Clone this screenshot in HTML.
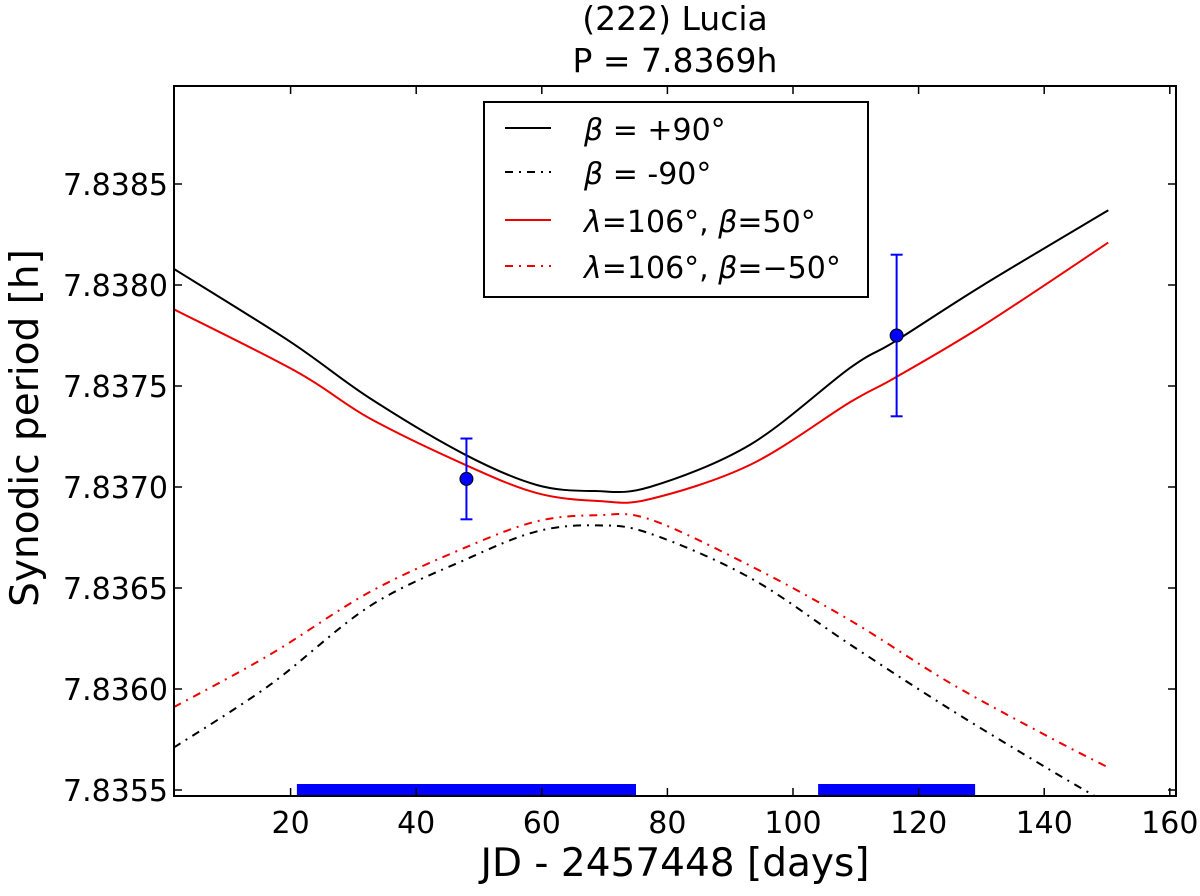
<!DOCTYPE html>
<html><head><meta charset="utf-8"><style>
body{margin:0;background:#fff}
svg text{font-family:"DejaVu Sans","Liberation Sans",sans-serif;fill:#000}
</style></head><body>
<svg width="1200" height="891">
<g id="g"></g>
</svg>
<script>
const xSolidBlack=[1.4,19.9,32.6,47.8,59.2,68.5,77.2,93.2,109.1,116.2,130.3,150.2];
const blackSolid=[7.83808,7.83772,7.83744,7.83716,7.83701,7.83698,7.83700,7.83721,7.83759,7.83772,7.83800,7.83837];
const xSolidRed=[1.4,21.0,32.6,47.8,59.2,69.3,77.2,93.2,109.1,116.2,130.3,150.2];
const redSolid=[7.83788,7.83757,7.83734,7.83711,7.83697,7.83693,7.83694,7.83711,7.83742,7.83754,7.83780,7.83821];
const xDash=[1.4,16.7,32.6,47.8,59.2,68.8,77.2,93.2,109.1,125.0,140.9,150.3];
const blackDash=[7.83571,7.83602,7.83641,7.83664,7.83678,7.83681,7.83677,7.83655,7.83622,7.83590,7.83560,7.83543];
const redDash=[7.83591,7.83617,7.83648,7.83670,7.83683,7.83686,7.83684,7.83661,7.83634,7.83603,7.83576,7.83561];
const obsX=[48,116.5];
const obsY=[7.83704,7.83775];
const obsErr=[0.0002,0.0004];
const windows=[[21,75],[104,129]];
const xTicks=[20,40,60,80,100,120,140,160];
const yTicks=[7.8355,7.8360,7.8365,7.8370,7.8375,7.8380,7.8385];
const L=174,R=1176,T=86,B=796;
const X=v=>165+(v)*6.28;
const Y=v=>184+(7.8385-v)/0.0005*101;
const NS="http://www.w3.org/2000/svg";
const g=document.getElementById('g');
function mk(t,a,p){const e=document.createElementNS(NS,t);for(const k in a)e.setAttribute(k,a[k]);(p||g).appendChild(e);return e;}
const defs=mk('defs',{});const cp=mk('clipPath',{id:'c'},defs);mk('rect',{x:L,y:T,width:R-L,height:B-T},cp);
const plot=mk('g',{'clip-path':'url(#c)'});
function path(xs,ys){const p=xs.map((x,i)=>[X(x),Y(ys[i])]);let d='M'+p[0];for(let i=0;i<p.length-1;i++){const p0=p[i-1]||p[i],p1=p[i],p2=p[i+1],p3=p[i+2]||p2;d+=' C'+(p1[0]+(p2[0]-p0[0])/6)+','+(p1[1]+(p2[1]-p0[1])/6)+' '+(p2[0]-(p3[0]-p1[0])/6)+','+(p2[1]-(p3[1]-p1[1])/6)+' '+p2;}return d;}
const series=[[xSolidBlack,blackSolid,'#000','','curve-beta-plus90'],[xDash,blackDash,'#000','8,6,2,6','curve-beta-minus90'],[xSolidRed,redSolid,'#e00','','curve-lambda106-beta50'],[xDash,redDash,'#e00','8,6,2,6','curve-lambda106-beta-minus50']];
series.forEach(s=>{const e=mk('path',{d:path(s[0],s[1]),fill:'none',stroke:s[2],'stroke-width':2,'stroke-dasharray':s[3]},plot);

});
windows.forEach(w=>{const e=mk('rect',{x:X(w[0]),y:Y(7.8355)-6,width:X(w[1])-X(w[0]),height:11,fill:'#0000ff'},plot);

});
obsX.forEach((x,i)=>{const cx=X(x),y1=Y(obsY[i]+obsErr[i]),y2=Y(obsY[i]-obsErr[i]);
mk('line',{x1:cx,x2:cx,y1:y1,y2:y2,stroke:'#00f','stroke-width':2},plot);
mk('line',{x1:cx-6,x2:cx+6,y1:y1,y2:y1,stroke:'#00f','stroke-width':2},plot);
mk('line',{x1:cx-6,x2:cx+6,y1:y2,y2:y2,stroke:'#00f','stroke-width':2},plot);
const c=mk('circle',{cx:cx,cy:Y(obsY[i]),r:6.5,fill:'#0000ff',stroke:'#000','stroke-width':1},plot);

});
mk('rect',{x:L,y:T,width:R-L,height:B-T,fill:'none',stroke:'#000','stroke-width':2});
xTicks.forEach(t=>{const x=X(t);mk('line',{x1:x,x2:x,y1:B,y2:B-8,stroke:'#000','stroke-width':1.5});mk('line',{x1:x,x2:x,y1:T,y2:T+8,stroke:'#000','stroke-width':1.5});
const e=mk('text',{x:x,y:B+37,'text-anchor':'middle','font-size':30});e.textContent=t;

});
yTicks.forEach(t=>{const y=Y(t);mk('line',{x1:L,x2:L+8,y1:y,y2:y,stroke:'#000','stroke-width':1.5});mk('line',{x1:R,x2:R-8,y1:y,y2:y,stroke:'#000','stroke-width':1.5});
const e=mk('text',{x:L-6,y:y+11,'text-anchor':'end','font-size':30});e.textContent=t.toFixed(4);

});
</script>
<svg width="1200" height="891" style="position:absolute;left:0;top:0">
<text x="675" y="30" text-anchor="middle" font-size="33">(222) Lucia</text>
<text x="675" y="72" text-anchor="middle" font-size="33">P = 7.8369h</text>
<text x="675" y="876" text-anchor="middle" font-size="39">JD - 2457448 [days]</text>
<text transform="translate(38,428) rotate(-90)" text-anchor="middle" font-size="39">Synodic period [h]</text>
<g>
<rect x="484" y="102" width="384" height="195" fill="#fff" stroke="#000" stroke-width="2"/>
<line x1="505" x2="551" y1="128" y2="128" stroke="#000" stroke-width="2"/>
<line x1="505" x2="551" y1="172" y2="172" stroke="#000" stroke-width="2" stroke-dasharray="8,6,2,6"/>
<line x1="505" x2="551" y1="220" y2="220" stroke="#e00" stroke-width="2"/>
<line x1="505" x2="551" y1="266" y2="266" stroke="#e00" stroke-width="2" stroke-dasharray="8,6,2,6"/>
<text x="584" y="140" font-size="30"><tspan font-style="italic">β</tspan> = +90°</text>
<text x="584" y="184" font-size="30"><tspan font-style="italic">β</tspan> = -90°</text>
<text x="584" y="232" font-size="30"><tspan font-style="italic">λ</tspan>=106°, <tspan font-style="italic">β</tspan>=50°</text>
<text x="584" y="278" font-size="30"><tspan font-style="italic">λ</tspan>=106°, <tspan font-style="italic">β</tspan>=−50°</text>
</g>
</svg>
</body></html>
